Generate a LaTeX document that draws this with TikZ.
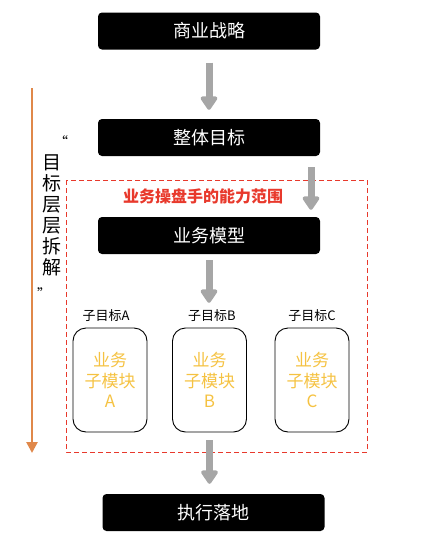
\documentclass[tikz,border=0pt]{standalone}
\usepackage{fontspec}
\setmainfont{Noto Sans CJK SC}
\usetikzlibrary{arrows.meta}
\definecolor{boxgray}{HTML}{A6A6A6}
\definecolor{orangeline}{HTML}{E0884A}
\definecolor{redtxt}{HTML}{E8392C}
\definecolor{yellowtxt}{HTML}{F5C242}
\tikzset{
  blackbox/.style={fill=black, rounded corners=4pt, minimum width=222pt, minimum height=37pt, inner sep=0pt, text=white, font=\fontsize{18}{20}\selectfont},
  subbox/.style={draw=black, line width=0.9pt, rounded corners=13pt, minimum width=74pt, minimum height=104pt, inner sep=0pt, align=center, text=yellowtxt, font=\fontsize{17}{20.5}\selectfont},
  sublabel/.style={font=\fontsize{13}{15}\selectfont, inner sep=0pt},
  grayarrow/.style={draw=boxgray, line width=7pt, -{Triangle[width=19pt,length=15pt,round=false]}},
  region/.style={draw=redtxt, dashed, dash pattern=on 5pt off 3pt, line width=0.9pt}
}
\begin{document}
\begin{tikzpicture}[x=1pt,y=-1pt]
\useasboundingbox (0,0) rectangle (437,549);
\node[blackbox] (b1) at (209,31) {商业战略};
\node[blackbox] (b2) at (209,137.5) {整体目标};
\node[blackbox] (b3) at (209,235.5) {业务模型};
\node[blackbox] (b4) at (213.5,512.5) {执行落地};
\draw[region] (66,180) rectangle (367,452);
\node[font=\fontsize{16}{18}\selectfont\bfseries, text=redtxt, inner sep=0pt] (rt) at (203,196) {业务操盘手的能力范围};
\node[sublabel] (la) at (106,316) {子目标A};
\node[sublabel] (lb) at (212,316) {子目标B};
\node[sublabel] (lc) at (312,316) {子目标C};
\node[subbox] (sa) at (110,380) {业务\\子模块\\A};
\node[subbox] (sb) at (209.5,380) {业务\\子模块\\B};
\node[subbox] (sc) at (312,380) {业务\\子模块\\C};
\draw[grayarrow, shorten <=13pt, shorten >=9pt] (b1.south) -- (b2.north);
\draw[grayarrow, shorten <=11pt, shorten >=7pt] ([xshift=102pt]b2.south) -- ([xshift=102pt]b3.north);
\draw[grayarrow, shorten <=6pt, shorten >=7pt] (b3.south) -- (b3.south |- lb.north);
\draw[grayarrow, shorten <=8pt, shorten >=10pt] (sb.south) -- (sb.south |- b4.north);
\coordinate (o1) at (32,88);
\coordinate (o2) at (32,453);
\draw[orangeline, line width=2.6pt, -{Triangle[width=11pt,length=11pt]}] (o1) -- (o2);
\node[align=center, inner sep=0pt, font=\fontsize{19}{21}\selectfont] (vt) at (52,215) {目\\标\\层\\层\\拆\\解};
\node[inner sep=0pt, font=\fontsize{14}{14}\selectfont] (q1) at (61,142) {“};
\node[inner sep=0pt, font=\fontsize{14}{14}\selectfont] (q2) at (44,294) {”};
\end{tikzpicture}
\end{document}
